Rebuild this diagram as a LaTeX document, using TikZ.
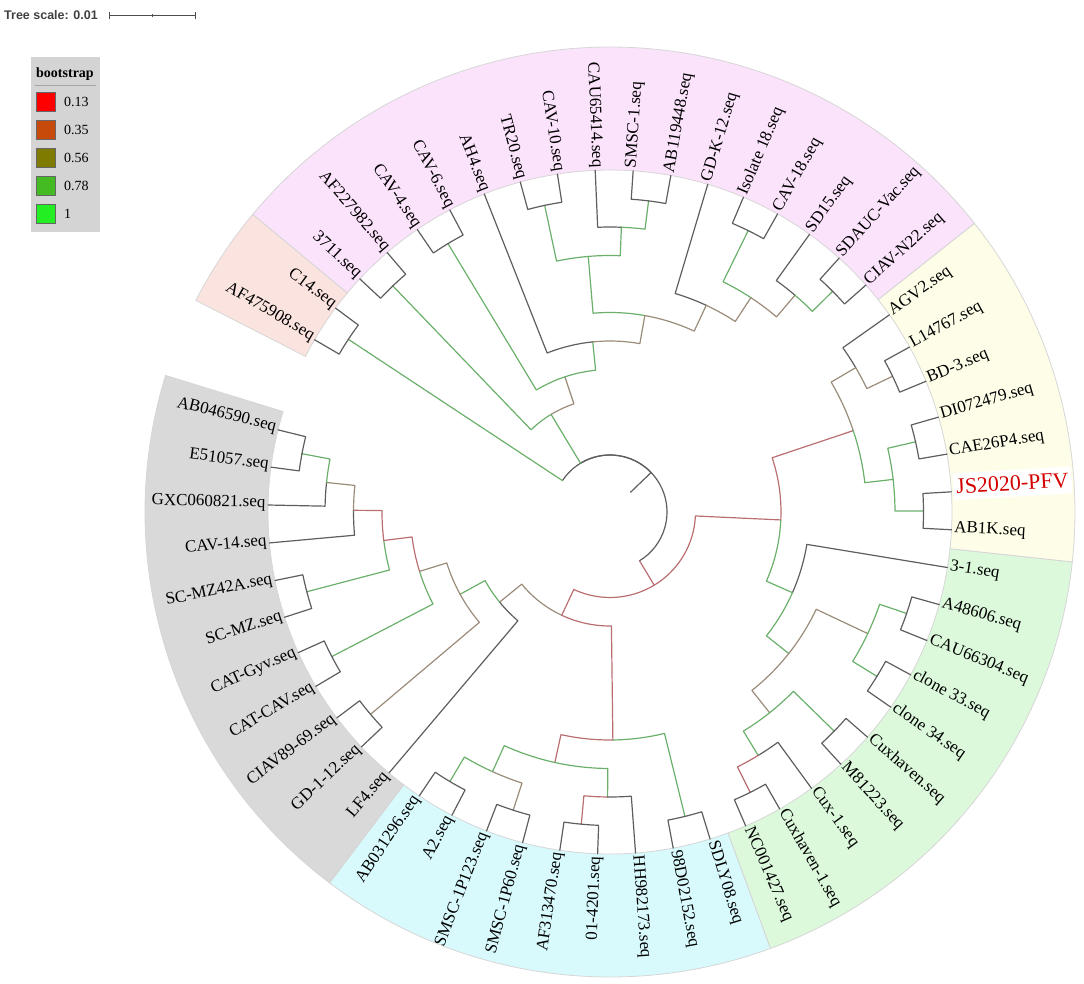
\documentclass[tikz,border=0pt]{standalone}
\usepackage{fontspec}
\setmainfont{Liberation Serif}
\newfontfamily\scalesans{Liberation Sans}
\usetikzlibrary{positioning}

\definecolor{bsgray}{HTML}{5E5E5E}
\definecolor{bsgreen}{HTML}{6AB06A}
\definecolor{bsolive}{HTML}{9A8C78}
\definecolor{bsred}{HTML}{BA6E72}
\definecolor{bandgray}{HTML}{D9D9D9}
\definecolor{bandcyan}{HTML}{D8FAFC}
\definecolor{bandgreen}{HTML}{DCF9DC}
\definecolor{bandyellow}{HTML}{FDFDE8}
\definecolor{bandpink}{HTML}{FBE3FB}
\definecolor{bandsalmon}{HTML}{FBE4E0}
\definecolor{lgdbg}{HTML}{D4D4D4}
\definecolor{bsA}{HTML}{FF0000}
\definecolor{bsB}{HTML}{C84A0A}
\definecolor{bsC}{HTML}{7F7A00}
\definecolor{bsD}{HTML}{44BB22}
\definecolor{bsE}{HTML}{22EE22}
\definecolor{pfvred}{HTML}{D40000}

% tree node: name, leaf position, depth level
\newcommand{\tnode}[3]{%
	\expandafter\xdef\csname tu@#1\endcsname{#2}%
	\expandafter\xdef\csname tl@#1\endcsname{#3}%
	\coordinate (#1) at ({166.1+6.364*#2}:{28.5*#3});}

% branch: [arc colour], colour, parent, child
\newcommand{\brn}[4][]{%
	\pgfmathsetmacro\pa{166.1+6.364*\csname tu@#3\endcsname}%
	\pgfmathsetmacro\ca{166.1+6.364*\csname tu@#4\endcsname}%
	\pgfmathsetmacro\pr{28.5*\csname tl@#3\endcsname}%
	\ifx&#1&%
		\draw[branch,draw=#2] (#3) arc[start angle=\pa,end angle=\ca,radius=\pr] -- (#4);
	\else
		\draw[branch,draw=#1] (#3) arc[start angle=\pa,end angle=\ca,radius=\pr] coordinate (#3-#4);
		\draw[branch,draw=#2] (#3-#4) -- (#4);
	\fi}

% coloured range: colour, first leaf, last leaf
\newcommand{\band}[3]{%
	\pgfmathsetmacro\ba{166.1+6.364*(#2-0.5)}%
	\pgfmathsetmacro\bb{166.1+6.364*(#3+0.5)}%
	\filldraw[bandline,fill=#1] (\ba:342) arc[start angle=\ba,end angle=\bb,radius=342] -- (\bb:465) arc[start angle=\bb,end angle=\ba,radius=465] -- cycle;}

% leaf: [style], name, position, text
\newcommand{\leaf}[4][]{%
	\tnode{#2}{#3}{12}%
	\pgfmathsetmacro\la{166.1+6.364*#3}%
	\pgfmathsetmacro\lc{cos(\la)}%
	\ifdim\lc pt<0pt
		\node[leaflbl,#1,rotate=\la+180,anchor=mid east] (#2-lbl) at (\la:344) {#4};
	\else
		\node[leaflbl,#1,rotate=\la,anchor=mid west] (#2-lbl) at (\la:344) {#4};
	\fi}

\begin{document}
\begin{tikzpicture}[x=1pt,y=1pt,
	branch/.style={line width=1.2pt,line cap=round,line join=round},
	bandline/.style={draw=black!16,line width=0.8pt},
	leaflbl/.style={inner sep=0.5pt,font=\fontsize{17}{19}\selectfont},
	swatch/.style={draw=black!60,line width=0.5pt,minimum size=18.5pt,inner sep=0pt},
	lgdtxt/.style={inner sep=0pt,font=\fontsize{14}{16}\selectfont}]
	\useasboundingbox (-610,-471) rectangle (474,512);

	\band{bandgray}{0}{10}
	\band{bandcyan}{11}{19}
	\band{bandgreen}{20}{29}
	\band{bandyellow}{30}{36}
	\band{bandpink}{37}{52}
	\band{bandsalmon}{53}{54}

	\leaf{ab046590}{0}{AB046590.seq}
	\leaf{e51057}{1}{E51057.seq}
	\leaf{gxc}{2}{GXC060821.seq}
	\leaf{cav14}{3}{CAV-14.seq}
	\leaf{scmz42a}{4}{SC-MZ42A.seq}
	\leaf{scmz}{5}{SC-MZ.seq}
	\leaf{catgyv}{6}{CAT-Gyv.seq}
	\leaf{catcav}{7}{CAT-CAV.seq}
	\leaf{ciav8969}{8}{CIAV89-69.seq}
	\leaf{gd112}{9}{GD-1-12.seq}
	\leaf{lf4}{10}{LF4.seq}
	\leaf{ab031296}{11}{AB031296.seq}
	\leaf{a2}{12}{A2.seq}
	\leaf{smsc1p123}{13}{SMSC-1P123.seq}
	\leaf{smsc1p60}{14}{SMSC-1P60.seq}
	\leaf{af313470}{15}{AF313470.seq}
	\leaf{o14201}{16}{01-4201.seq}
	\leaf{hh982173}{17}{HH982173.seq}
	\leaf{d98d02152}{18}{98D02152.seq}
	\leaf{sdly08}{19}{SDLY08.seq}
	\leaf{nc001427}{20}{NC001427.seq}
	\leaf{cuxhaven1}{21}{Cuxhaven-1.seq}
	\leaf{cux1}{22}{Cux-1.seq}
	\leaf{m81223}{23}{M81223.seq}
	\leaf{cuxhaven}{24}{Cuxhaven.seq}
	\leaf{clone34}{25}{clone 34.seq}
	\leaf{clone33}{26}{clone 33.seq}
	\leaf{cau66304}{27}{CAU66304.seq}
	\leaf{a48606}{28}{A48606.seq}
	\leaf{s31}{29}{3-1.seq}
	\leaf{ab1k}{30}{AB1K.seq}
	\leaf[text=pfvred,fill=white,inner xsep=3pt,inner ysep=6pt,font=\fontsize{22}{24}\selectfont]{js2020}{31}{JS2020-PFV}
	\leaf{cae26p4}{32}{CAE26P4.seq}
	\leaf{di072479}{33}{DI072479.seq}
	\leaf{bd3}{34}{BD-3.seq}
	\leaf{l14767}{35}{L14767.seq}
	\leaf{agv2}{36}{AGV2.seq}
	\leaf{ciavn22}{37}{CIAV-N22.seq}
	\leaf{sdaucvac}{38}{SDAUC-Vac.seq}
	\leaf{sd15}{39}{SD15.seq}
	\leaf{cav18}{40}{CAV-18.seq}
	\leaf{isolate18}{41}{Isolate 18.seq}
	\leaf{gdk12}{42}{GD-K-12.seq}
	\leaf{ab119448}{43}{AB119448.seq}
	\leaf{smsc1}{44}{SMSC-1.seq}
	\leaf{cau65414}{45}{CAU65414.seq}
	\leaf{cav10}{46}{CAV-10.seq}
	\leaf{tr20}{47}{TR20.seq}
	\leaf{ah4}{48}{AH4.seq}
	\leaf{cav6}{49}{CAV-6.seq}
	\leaf{cav4}{50}{CAV-4.seq}
	\leaf{af227982}{51}{AF227982.seq}
	\leaf{s3711}{52}{3711.seq}
	\leaf{c14}{53}{C14.seq}
	\leaf{af475908}{54}{AF475908.seq}

	\tnode{R}{37.36}{2}
	\tnode{na}{53.5}{11}
	\tnode{nb}{49.5}{4}
	\tnode{nb1}{51.5}{11}
	\tnode{nb2}{47.51}{5}
	\tnode{ncav}{49.5}{11}
	\tnode{nb3}{45.52}{6}
	\tnode{nb4}{43.03}{7}
	\tnode{nb5}{45.375}{9}
	\tnode{ntc}{46.5}{11}
	\tnode{nb6}{44.25}{10}
	\tnode{nb7}{43.5}{11}
	\tnode{nb8}{40.6875}{8}
	\tnode{nb9}{39.375}{9}
	\tnode{nic}{40.5}{11}
	\tnode{nb10}{38.25}{10}
	\tnode{nb11}{37.5}{11}
	\tnode{n1}{21.22}{3}
	\tnode{n2}{30.05}{6}
	\tnode{ny}{33.375}{9}
	\tnode{ny1}{35.25}{10}
	\tnode{nlb}{34.5}{11}
	\tnode{ny2}{31.5}{10}
	\tnode{ndc}{32.5}{11}
	\tnode{nja}{30.5}{11}
	\tnode{ng}{26.72}{7}
	\tnode{ng1}{24.44}{8}
	\tnode{ng2}{26.5}{10}
	\tnode{nac}{27.5}{11}
	\tnode{ncl}{25.5}{11}
	\tnode{ng3}{22.375}{9}
	\tnode{ng4}{23.5}{11}
	\tnode{ng5}{21.25}{10}
	\tnode{ng6}{20.5}{11}
	\tnode{n3}{12.39}{4}
	\tnode{ncy}{16.44}{8}
	\tnode{nc1}{14.375}{9}
	\tnode{nc6}{12.5}{10}
	\tnode{naa}{11.5}{11}
	\tnode{nss}{13.5}{11}
	\tnode{nc4}{16.25}{10}
	\tnode{nc5}{15.5}{11}
	\tnode{nc2}{18.5}{11}
	\tnode{ngr}{8.35}{5}
	\tnode{ngr1}{6.703}{6}
	\tnode{ngr2}{4.906}{7}
	\tnode{ngr3}{8.5}{11}
	\tnode{ncat}{6.5}{11}
	\tnode{ngr4}{3.3125}{8}
	\tnode{nsm}{4.5}{11}
	\tnode{ngr5}{2.125}{9}
	\tnode{ngr6}{1.25}{10}
	\tnode{nae}{0.5}{11}

	\tnode{R0}{37.36}{1}
	\draw[branch,draw=bsgray] (R0) -- (R);
	\brn[bsgray]{bsgreen}{R}{na}
	\brn[bsgray]{bsgreen}{R}{nb}
	\brn[bsgray]{bsred}{R}{n1}

	\brn{bsgray}{na}{c14}
	\brn{bsgray}{na}{af475908}
	\brn{bsgreen}{nb}{nb1}
	\brn{bsgray}{nb1}{s3711}
	\brn{bsgray}{nb1}{af227982}
	\brn{bsolive}{nb}{nb2}
	\brn{bsgreen}{nb2}{ncav}
	\brn{bsgray}{ncav}{cav4}
	\brn{bsgray}{ncav}{cav6}
	\brn{bsgreen}{nb2}{nb3}
	\brn{bsgray}{nb3}{ah4}
	\brn{bsolive}{nb3}{nb4}
	\brn{bsgreen}{nb4}{nb5}
	\brn{bsgreen}{nb5}{ntc}
	\brn{bsgray}{ntc}{tr20}
	\brn{bsgray}{ntc}{cav10}
	\brn{bsgreen}{nb5}{nb6}
	\brn{bsgray}{nb6}{cau65414}
	\brn{bsgreen}{nb6}{nb7}
	\brn{bsgray}{nb7}{smsc1}
	\brn{bsgray}{nb7}{ab119448}
	\brn{bsolive}{nb4}{nb8}
	\brn{bsgray}{nb8}{gdk12}
	\brn{bsolive}{nb8}{nb9}
	\brn{bsgreen}{nb9}{nic}
	\brn{bsgray}{nic}{isolate18}
	\brn{bsgray}{nic}{cav18}
	\brn{bsolive}{nb9}{nb10}
	\brn{bsgray}{nb10}{sd15}
	\brn{bsgreen}{nb10}{nb11}
	\brn{bsgray}{nb11}{sdaucvac}
	\brn{bsgray}{nb11}{ciavn22}

	\brn{bsred}{n1}{n2}
	\brn{bsred}{n2}{ny}
	\brn{bsolive}{ny}{ny1}
	\brn{bsgray}{ny1}{agv2}
	\brn{bsolive}{ny1}{nlb}
	\brn{bsgray}{nlb}{l14767}
	\brn{bsgray}{nlb}{bd3}
	\brn{bsgreen}{ny}{ny2}
	\brn{bsgreen}{ny2}{ndc}
	\brn{bsgray}{ndc}{di072479}
	\brn{bsgray}{ndc}{cae26p4}
	\brn{bsgreen}{ny2}{nja}
	\brn{bsgray}{nja}{js2020}
	\brn{bsgray}{nja}{ab1k}
	\brn{bsgreen}{n2}{ng}
	\brn{bsgray}{ng}{s31}
	\brn{bsgreen}{ng}{ng1}
	\brn{bsolive}{ng1}{ng2}
	\brn{bsgreen}{ng2}{nac}
	\brn{bsgray}{nac}{a48606}
	\brn{bsgray}{nac}{cau66304}
	\brn{bsgreen}{ng2}{ncl}
	\brn{bsgray}{ncl}{clone33}
	\brn{bsgray}{ncl}{clone34}
	\brn{bsolive}{ng1}{ng3}
	\brn{bsgreen}{ng3}{ng4}
	\brn{bsgray}{ng4}{cuxhaven}
	\brn{bsgray}{ng4}{m81223}
	\brn{bsgreen}{ng3}{ng5}
	\brn{bsgray}{ng5}{cux1}
	\brn{bsred}{ng5}{ng6}
	\brn{bsgray}{ng6}{cuxhaven1}
	\brn{bsgray}{ng6}{nc001427}

	\brn{bsred}{n1}{n3}
	\brn{bsred}{n3}{ncy}
	\brn{bsred}{ncy}{nc1}
	\brn{bsgreen}{nc1}{nc6}
	\brn{bsgreen}{nc6}{naa}
	\brn{bsgray}{naa}{ab031296}
	\brn{bsgray}{naa}{a2}
	\brn{bsolive}{nc6}{nss}
	\brn{bsgray}{nss}{smsc1p123}
	\brn{bsgray}{nss}{smsc1p60}
	\brn{bsgreen}{nc1}{nc4}
	\brn{bsred}{nc4}{nc5}
	\brn{bsgray}{nc5}{af313470}
	\brn{bsgray}{nc5}{o14201}
	\brn{bsgray}{nc4}{hh982173}
	\brn{bsgreen}{ncy}{nc2}
	\brn{bsgray}{nc2}{d98d02152}
	\brn{bsgray}{nc2}{sdly08}
	\brn{bsolive}{n3}{ngr}
	\brn{bsgray}{ngr}{lf4}
	\brn{bsgreen}{ngr}{ngr1}
	\brn{bsolive}{ngr1}{ngr3}
	\brn{bsgray}{ngr3}{ciav8969}
	\brn{bsgray}{ngr3}{gd112}
	\brn{bsolive}{ngr1}{ngr2}
	\brn{bsgreen}{ngr2}{ncat}
	\brn{bsgray}{ncat}{catgyv}
	\brn{bsgray}{ncat}{catcav}
	\brn{bsred}{ngr2}{ngr4}
	\brn{bsgreen}{ngr4}{nsm}
	\brn{bsgray}{nsm}{scmz42a}
	\brn{bsgray}{nsm}{scmz}
	\brn{bsred}{ngr4}{ngr5}
	\brn{bsgray}{ngr5}{cav14}
	\brn{bsolive}{ngr5}{ngr6}
	\brn{bsgray}{ngr6}{gxc}
	\brn{bsgreen}{ngr6}{nae}
	\brn{bsgray}{nae}{ab046590}
	\brn{bsgray}{nae}{e51057}

	% legend
	\node[fill=lgdbg,minimum width=69pt,minimum height=175pt,inner sep=0pt] (legend) at (-544.5,367.5) {};
	\node[inner sep=0pt,font=\bfseries\fontsize{14}{16}\selectfont] (lgdtitle) at (-545,438) {bootstrap};
	\draw[black!35,line width=1pt] (-575,426) -- (-514,426);
	\foreach \v/\c [count=\k] in {0.13/bsA,0.35/bsB,0.56/bsC,0.78/bsD,1/bsE}{
		\node[swatch,fill=\c] (sw\k) at (-564,{438-28*\k}) {};
		\node[lgdtxt,right=8.5pt of sw\k] (val\k) {\v};
	}

	% scale
	\node[inner sep=0pt,anchor=mid west,text=black!75,font=\scalesans\bfseries\fontsize{12.5}{14}\selectfont] (scaletxt) at (-606,495) {Tree scale: 0.01};
	\coordinate (sc0) at (-500,496);
	\coordinate (sc1) at (-414,496);
	\coordinate (scm) at (-457,496);
	\draw[black!70,line width=1pt] (sc0) -- (sc1);
	\draw[black!70,line width=1pt] ([yshift=-3.5pt]sc0) -- ([yshift=3.5pt]sc0);
	\draw[black!70,line width=1pt] ([yshift=-3.5pt]sc1) -- ([yshift=3.5pt]sc1);
	\draw[black!70,line width=1pt] ([yshift=-1.5pt]scm) -- ([yshift=1.5pt]scm);
\end{tikzpicture}
\end{document}
